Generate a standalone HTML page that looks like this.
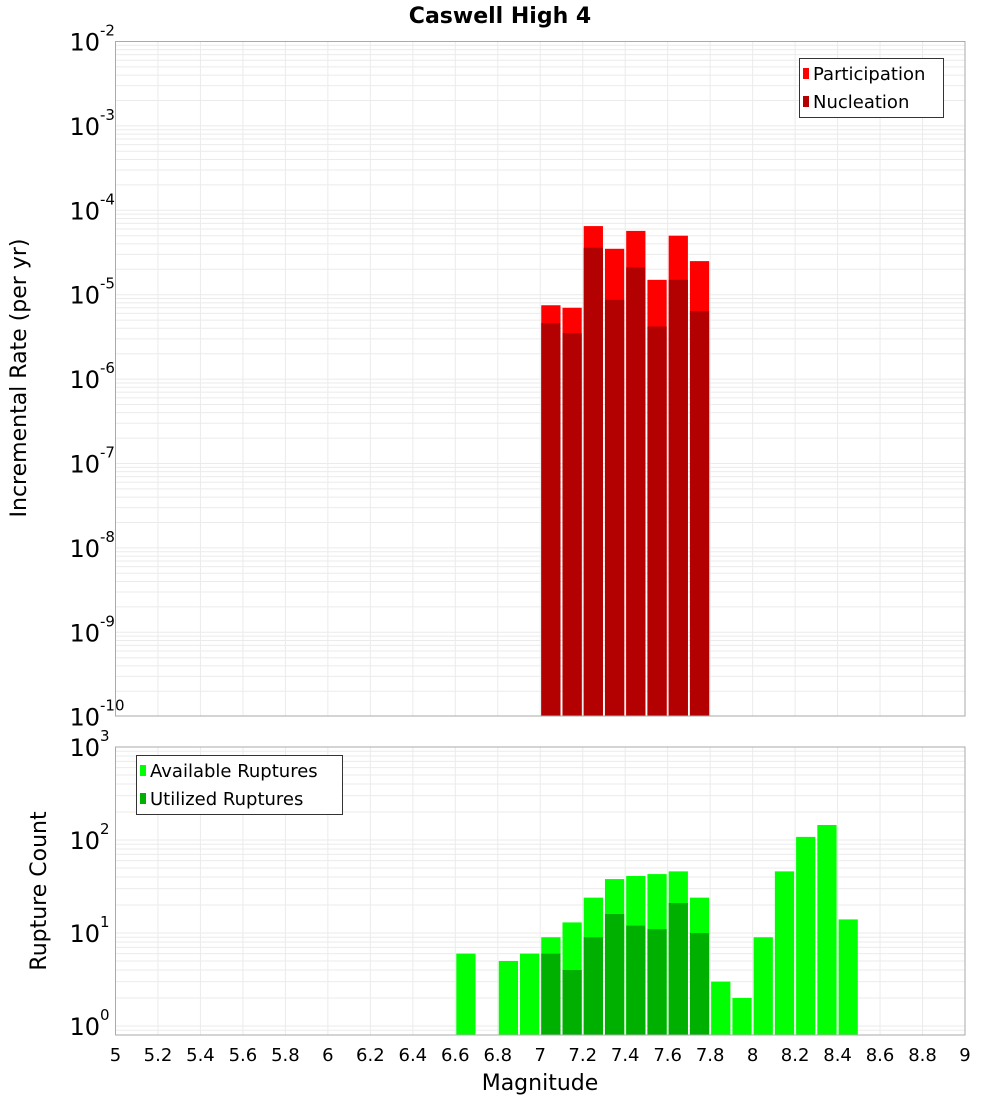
<!DOCTYPE html>
<html><head><meta charset="utf-8"><style>
body{margin:0;background:#fff;}
svg{display:block;font-family:"DejaVu Sans","Liberation Sans",sans-serif;}
</style></head><body>
<svg id="chart" width="1000" height="1100" xmlns="http://www.w3.org/2000/svg">
<text x="500" y="23" text-anchor="middle" font-size="22" font-weight="bold">Caswell High 4</text>
<g id="top"></g>
<g id="bot"></g>
<text transform="translate(26,378) rotate(-90)" text-anchor="middle" font-size="22">Incremental Rate (per yr)</text>
<text transform="translate(46,891) rotate(-90)" text-anchor="middle" font-size="22">Rupture Count</text>
<text x="540" y="1090" text-anchor="middle" font-size="22">Magnitude</text>
<g>
<rect x="799.5" y="58.5" width="144" height="59" fill="#fff" stroke="#333"/>
<rect x="803" y="68" width="6" height="11" fill="#ff0000"/>
<text x="813" y="80" font-size="18">Participation</text>
<rect x="803" y="96" width="6" height="11" fill="#b30000"/>
<text x="813" y="108" font-size="18">Nucleation</text>
</g>
<g>
<rect x="136.5" y="755.5" width="206" height="59" fill="#fff" stroke="#333"/>
<rect x="140" y="765" width="6" height="11" fill="#00ff00"/>
<text x="150" y="777" font-size="18">Available Ruptures</text>
<rect x="140" y="793" width="6" height="11" fill="#00b000"/>
<text x="150" y="805" font-size="18">Utilized Ruptures</text>
</g>
</svg>
<script>
const mags = [7.05,7.15,7.25,7.35,7.45,7.55,7.65,7.75];
const participation = [7.5e-6,7e-6,6.5e-5,3.5e-5,5.7e-5,1.5e-5,5e-5,2.5e-5];
const nucleation = [4.6e-6,3.5e-6,3.6e-5,8.7e-6,2.1e-5,4.2e-6,1.5e-5,6.4e-6];
const countMags = [6.65,6.85,6.95,7.05,7.15,7.25,7.35,7.45,7.55,7.65,7.75,7.85,7.95,8.05,8.15,8.25,8.35,8.45];
const available = [6,5,6,9,13,24,38,41,43,46,24,3,2,9,46,108,145,14];
const utilizedMags = [7.05,7.15,7.25,7.35,7.45,7.55,7.65,7.75];
const utilized = [6,4,9,16,12,11,21,10];
const xTicks = [5,5.2,5.4,5.6,5.8,6,6.2,6.4,6.6,6.8,7,7.2,7.4,7.6,7.8,8,8.2,8.4,8.6,8.8,9];
const topExps = [-2,-3,-4,-5,-6,-7,-8,-9,-10];
const botExps = [3,2,1,0];

const NS="http://www.w3.org/2000/svg";
const X0=115.5,X1=965;
function x(m){return X0+(m-5)/4*(X1-X0);}
function yTop(v){return 41.5+(-2-Math.log10(v))*84.4;}
function yBot(v){return 1026+(-Math.log10(v))*93;}
function el(p,t,a){const e=document.createElementNS(NS,t);for(const k in a)e.setAttribute(k,a[k]);p.appendChild(e);return e;}

function frame(g,top,bot,yf,lo,hi,name){
  // minor grid
  for(let d=lo;d<hi;d++)for(let k=1;k<10;k++){
    const yy=yf(k*Math.pow(10,d));
    if(yy<top||yy>bot)continue;
    const l=el(g,'line',{x1:X0,x2:X1,y1:yy,y2:yy,stroke:'#ebebeb','stroke-width':1});
    
    
  }
  for(const t of xTicks){
    const l=el(g,'line',{x1:x(t),x2:x(t),y1:top,y2:bot,stroke:'#ebebeb','stroke-width':1});
    
    
  }
}
function border(g,top,bot,name){
  const r=el(g,'rect',{x:X0,y:top,width:X1-X0,height:bot-top,fill:'none',stroke:'#aaa'});
  
  
}
function bar(g,m,v,yf,base,fill,name){
  const y=yf(v);
  const r=el(g,'rect',{x:x(m-0.05)+1,y:y,width:x(m+0.05)-x(m-0.05)-2,height:base-y,fill:fill});
  
  
}
function ylab(svg,yy,e,name){
  const t=el(svg,'text',{x:100,y:yy+9,'text-anchor':'end','font-size':24});
  t.textContent='10';
  
  
  const s=el(svg,'text',{x:100,y:yy-6,'font-size':15});
  s.textContent=String(e);
  
  
}
const svg=document.getElementById('chart');
const gt=document.getElementById('top'),gb=document.getElementById('bot');
frame(gt,41.5,716,yTop,-10,-2,'top');
for(let i=0;i<mags.length;i++)bar(gt,mags[i],participation[i],yTop,716,'#ff0000','participation-bar');
for(let i=0;i<mags.length;i++)bar(gt,mags[i],nucleation[i],yTop,716,'#b30000','nucleation-bar');
border(gt,41.5,716,'top');
frame(gb,747,1035,yBot,-1,3,'bottom');
for(let i=0;i<countMags.length;i++)bar(gb,countMags[i],available[i],yBot,1035,'#00ff00','available-bar');
for(let i=0;i<utilizedMags.length;i++)bar(gb,utilizedMags[i],utilized[i],yBot,1035,'#00b000','utilized-bar');
border(gb,747,1035,'bottom');
for(const e of topExps)ylab(svg,yTop(Math.pow(10,e)),e,'top-y-tick-label');
for(const e of botExps)ylab(svg,yBot(Math.pow(10,e)),e,'bottom-y-tick-label');
for(const t of xTicks){
  const tx=el(svg,'text',{x:x(t),y:1061,'text-anchor':'middle','font-size':18});
  tx.textContent=String(t);
  
  
}
</script>
</body></html>
